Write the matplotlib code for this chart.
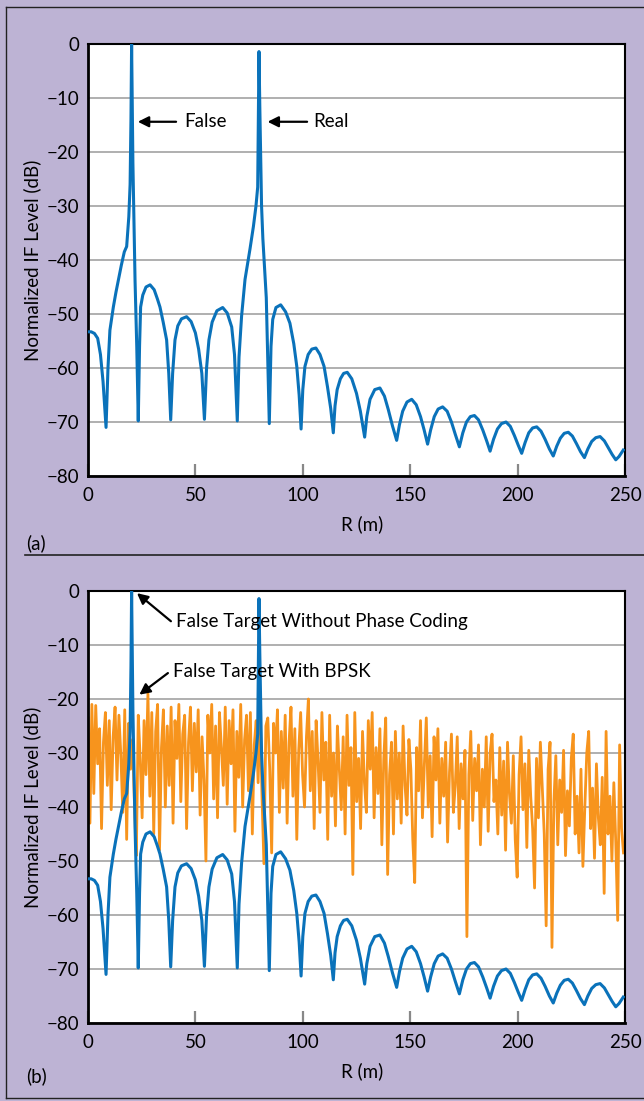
import numpy as np
import matplotlib.pyplot as plt
from matplotlib.lines import Line2D

plt.rcParams['font.family'] = ['Lato', 'DejaVu Sans']

### Range profile without phase coding (blue)
range_m = [
    0.0, 1.5, 3.0, 4.5, 5.8, 7.0, 8.4,
    9.3, 10.2, 11.8, 13.0, 14.1, 15.5, 16.9, 18.0, 19.0, 19.6, 20.0, 20.3,
    20.6, 20.9, 21.3, 21.6, 21.9, 22.7, 23.4,
    24.0, 24.5, 25.5, 27.0, 28.9, 30.8, 32.3, 33.5, 35.0, 36.6, 37.6, 38.5,
    39.4, 40.5, 41.8, 43.5, 45.9, 48.0, 50.0, 51.5, 53.0, 54.2,
    55.2, 56.3, 57.8, 60.0, 62.7, 64.8, 66.9, 68.2, 69.5,
    70.3, 71.5, 73.1, 74.6, 75.4, 77.0, 78.2, 79.0, 79.6,
    80.0, 80.4, 80.8, 81.4, 82.0, 83.0, 84.4,
    85.2, 86.0, 87.5, 89.7, 92.0, 94.0, 95.8, 97.2, 98.3, 99.2,
    100.0, 101.0, 102.5, 104.2, 106.1, 108.0, 109.9, 111.5, 113.0, 114.2,
    115.0, 116.0, 117.5, 119.0, 120.7, 122.8, 125.0, 126.8, 128.8,
    129.8, 131.3, 133.5, 135.9, 138.0, 139.8, 141.8, 143.7,
    145.0, 146.5, 148.5, 150.7, 152.8, 154.8, 156.5, 158.1,
    159.5, 161.2, 163.0, 165.1, 167.2, 169.2, 171.0, 172.9,
    174.5, 176.2, 178.0, 179.9, 181.8, 183.8, 185.6, 187.2,
    188.8, 190.6, 192.5, 194.6, 196.6, 198.5, 200.3, 201.9,
    203.5, 205.2, 207.0, 208.9, 210.9, 212.8, 214.8, 216.6,
    218.2, 219.9, 221.7, 223.6, 225.5, 227.4, 229.3, 231.1,
    232.7, 234.5, 236.4, 238.4, 240.4, 242.3, 244.0, 245.7,
    247.2, 249.2,
]
level_plain = [
    -53.3, -53.3, -53.6, -54.5, -57.5, -62.5, -71.0,
    -60.0, -53.0, -48.7, -46.0, -43.8, -41.0, -38.5, -37.5, -32.0, -26.0, -14.0, 0.0,
    -12.0, -22.0, -31.0, -37.5, -43.8, -56.0, -69.8,
    -56.0, -48.7, -46.5, -45.0, -44.6, -45.5, -47.2, -48.7, -51.5, -54.8, -61.0, -69.6,
    -61.0, -54.8, -52.2, -50.9, -50.5, -51.4, -53.5, -56.5, -61.0, -69.5,
    -60.0, -54.8, -51.5, -49.4, -48.8, -49.8, -52.4, -57.5, -69.8,
    -58.0, -50.4, -43.6, -40.0, -38.0, -33.8, -30.0, -26.5, -1.4,
    -12.0, -21.0, -30.0, -36.0, -40.0, -47.0, -70.3,
    -56.0, -51.0, -48.8, -48.3, -49.6, -51.7, -55.5, -59.7, -65.0, -71.3,
    -64.0, -59.7, -57.5, -56.5, -56.3, -57.5, -59.7, -63.5, -67.5, -72.0,
    -67.0, -64.0, -62.0, -61.0, -60.8, -62.0, -64.7, -68.0, -72.8,
    -69.0, -65.8, -64.0, -63.7, -65.2, -67.7, -70.8, -73.4,
    -70.5, -68.0, -66.3, -65.8, -66.8, -69.0, -71.5, -74.1,
    -71.5, -69.0, -67.6, -67.2, -68.0, -70.0, -72.3, -74.6,
    -72.0, -70.0, -69.0, -68.8, -69.6, -71.5, -73.5, -75.4,
    -73.2, -71.3, -70.3, -70.0, -70.8, -72.5, -74.3, -75.8,
    -73.8, -72.0, -71.1, -70.9, -71.7, -73.2, -75.0, -76.3,
    -74.5, -73.0, -72.1, -71.9, -72.6, -74.0, -75.5, -76.6,
    -75.0, -73.6, -72.9, -72.7, -73.5, -74.8, -76.0, -77.0,
    -76.4, -75.2,
]

### Range profile with BPSK coding (orange), one value per 0.9 m bin
bin_step = 0.9
level_bpsk = [
    -23.5, -43.0, -21.0, -37.5, -21.2, -32.0, -25.5, -44.0, -28.0, -22.5,
    -36.0, -24.0, -40.5, -27.0, -21.5, -35.0, -23.0, -30.5, -41.0, -22.0,
    -46.0, -24.5, -33.0, -27.5, -39.0, -49.0, -23.0, -31.0, -42.0, -24.0,
    -34.0, -19.0, -38.0, -22.5, -45.0, -26.0, -21.0, -48.0, -29.0, -22.0,
    -40.0, -25.0, -36.0, -21.5, -43.0, -24.0, -31.0, -21.0, -39.0, -26.5,
    -23.0, -44.0, -28.0, -21.5, -37.0, -24.5, -33.5, -22.0, -41.5, -27.0,
    -35.0, -50.0, -23.0, -30.0, -21.0, -38.5, -25.0, -42.0, -22.5, -29.0,
    -36.0, -21.5, -39.5, -24.0, -32.0, -22.0, -44.5, -26.0, -34.5, -21.0,
    -40.0, -27.5, -23.0, -37.0, -22.5, -45.0, -28.5, -24.0, -35.5, -21.5,
    -38.0, -50.5, -25.0, -23.5, -33.0, -48.5, -24.5, -30.0, -22.0, -41.0,
    -26.0, -36.5, -23.0, -43.0, -28.0, -21.5, -38.0, -25.5, -46.0, -29.5,
    -22.5, -34.0, -40.0, -27.0, -20.0, -37.0, -26.0, -44.0, -24.0, -31.5,
    -41.0, -22.5, -35.0, -28.0, -46.0, -23.0, -38.0, -30.0, -43.5, -25.0,
    -33.0, -40.5, -27.0, -45.0, -23.0, -36.0, -29.0, -52.5, -22.5, -39.0,
    -31.0, -44.0, -26.0, -35.5, -41.0, -24.0, -33.0, -22.5, -42.0, -29.0,
    -37.5, -25.5, -47.0, -31.0, -23.5, -52.5, -34.0, -28.0, -45.0, -26.0,
    -38.5, -30.0, -43.0, -25.0, -36.0, -41.5, -27.5, -33.0, -46.0, -54.0,
    -29.0, -37.0, -24.0, -42.0, -32.0, -23.5, -40.0, -30.5, -45.5, -27.0,
    -35.0, -25.5, -43.0, -31.0, -38.0, -28.0, -46.5, -33.5, -26.5, -41.0,
    -36.0, -27.0, -44.0, -32.0, -38.5, -29.5, -64.0, -34.0, -26.0, -42.5,
    -31.0, -37.0, -28.5, -47.0, -33.0, -40.0, -27.0, -44.5, -30.0, -26.5,
    -39.0, -35.0, -45.0, -29.0, -41.5, -31.5, -48.0, -28.0, -37.5, -43.0,
    -30.5, -46.0, -53.0, -34.0, -27.0, -40.5, -32.0, -47.5, -29.5, -38.0,
    -44.0, -55.0, -31.0, -42.0, -28.0, -36.5, -45.0, -62.0, -33.0, -28.0,
    -66.0, -39.0, -30.5, -47.0, -35.0, -41.0, -29.5, -49.0, -37.0, -43.5,
    -31.0, -26.5, -45.0, -38.0, -48.5, -33.0, -51.0, -40.0, -30.0, -26.0,
    -44.0, -36.5, -49.5, -32.0, -42.0, -47.0, -34.5, -56.0, -26.0, -45.0,
    -38.0, -50.0, -35.5, -46.5, -61.0, -28.5, -44.0, -48.5,
]
range_bpsk = np.arange(len(level_bpsk)) * bin_step

x_ticks = [0, 50, 100, 150, 200, 250]
y_ticks = [0, -10, -20, -30, -40, -50, -60, -70, -80]

bg = '#bdb3d4'
blue = '#0a72ba'
orange = '#f7941d'
fs = 13.5

W, H = 644, 1101
fig = plt.figure(figsize=(W / 100, H / 100), dpi=100, facecolor=bg)


def px_box(left, top, right, bottom):
    return [left / W, 1 - bottom / H, (right - left) / W, (bottom - top) / H]


def style_axes(ax, tag, tag_y):
    ax.set_xlim(0, 250)
    ax.set_ylim(-80, 0)
    ax.set_xticks(x_ticks)
    ax.set_yticks(y_ticks)
    ax.set_yticklabels([f'\u2212{-v}' if v < 0 else '0' for v in y_ticks])
    ax.tick_params(axis='x', direction='in', length=9, width=1.6, color='#888888',
                   labelsize=fs, pad=8)
    ax.tick_params(axis='y', length=0, labelsize=fs, pad=6)
    ax.grid(axis='y', color='#9a9a9a', lw=1.1)
    ax.set_axisbelow(True)
    for s in ax.spines.values():
        s.set_color('black')
        s.set_linewidth(1.5)
    ax.spines['left'].set_linewidth(2)
    ax.spines['bottom'].set_linewidth(2)
    ax.set_xlabel('R (m)', fontsize=fs)
    ax.set_ylabel('Normalized IF Level (dB)', fontsize=fs)
    ax.xaxis.set_label_coords(0.51, -0.09)
    ax.yaxis.set_label_coords(-0.088, 0.5)
    fig.text(26 / W, 1 - tag_y / H, tag, fontsize=fs, va='center', ha='left')


arrow = dict(arrowstyle='-|>', color='black', lw=1.6, mutation_scale=16, shrinkA=0, shrinkB=0)

# (a) single false target
ax1 = fig.add_axes(px_box(88, 44, 625, 476))
ax1.set_facecolor('white')
ax1.plot(range_m, level_plain, color=blue, lw=2.2, zorder=3)
style_axes(ax1, '(a)', 543)
ax1.annotate('', xy=(23.2, -14.4), xytext=(41.0, -14.4), arrowprops=arrow)
ax1.text(45.0, -14.4, 'False', fontsize=fs, va='center')
ax1.annotate('', xy=(83.6, -14.4), xytext=(102.0, -14.4), arrowprops=arrow)
ax1.text(105.0, -14.4, 'Real', fontsize=fs, va='center')

# (b) with BPSK phase coding
ax2 = fig.add_axes(px_box(88, 591, 625, 1023))
ax2.set_facecolor('white')
ax2.plot(range_bpsk, level_bpsk, color=orange, lw=2.0, zorder=2)
ax2.plot(range_m, level_plain, color=blue, lw=2.2, zorder=3)
style_axes(ax2, '(b)', 1076)
ax2.annotate('', xy=(22.8, -0.4), xytext=(38.6, -5.6), arrowprops=arrow)
ax2.text(41.0, -5.6, 'False Target Without Phase Coding', fontsize=fs, va='center')
ax2.annotate('', xy=(23.9, -19.2), xytext=(37.2, -15.2), arrowprops=arrow)
ax2.text(39.6, -14.9, 'False Target With BPSK', fontsize=fs, va='center')

# frame and panel divider
lc = '#222222'
fig.add_artist(Line2D([5.5 / W, 5.5 / W], [1 - 7 / H, 1 - 1098 / H], color=lc, lw=1))
fig.add_artist(Line2D([5.5 / W, 1], [1 - 7 / H, 1 - 7 / H], color=lc, lw=1))
fig.add_artist(Line2D([5.5 / W, 1], [1 - 1098 / H, 1 - 1098 / H], color=lc, lw=1))
fig.add_artist(Line2D([25 / W, 1], [1 - 555 / H, 1 - 555 / H], color=lc, lw=1.2))

fig.savefig('out.png', dpi=100, facecolor=bg)
